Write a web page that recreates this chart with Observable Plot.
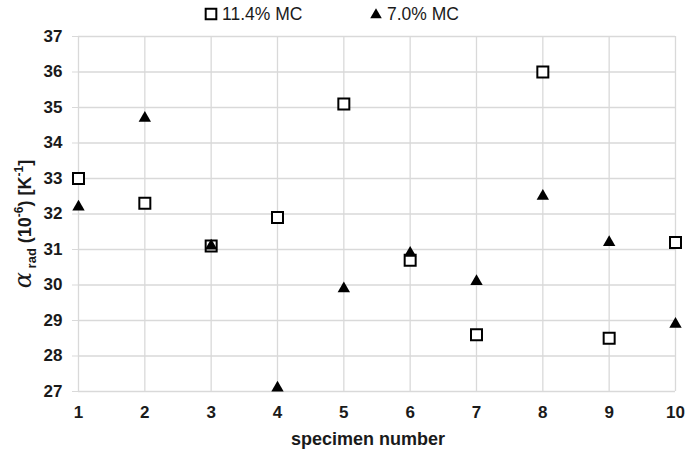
<!DOCTYPE html>
<html>
<head>
<meta charset="utf-8">
<script src="https://cdn.jsdelivr.net/npm/d3@7"></script>
<script src="https://cdn.jsdelivr.net/npm/@observablehq/plot@0.6"></script>
<style>
  body { margin: 0; background: #fff; font-family: "Liberation Sans", Arial, sans-serif; }
  #legend { display: block; }
</style>
</head>
<body>
<svg id="legend" width="685" height="26"></svg>
<div id="chart"></div>
<script>
const specimens = [1, 2, 3, 4, 5, 6, 7, 8, 9, 10];
const mc114 = [33.0, 32.3, 31.1, 31.9, 35.1, 30.7, 28.6, 36.0, 28.5, 31.2];
const mc70 = [32.2, 34.7, 31.1, 27.1, 29.9, 30.9, 30.1, 32.5, 31.2, 28.9];
const seriesNames = ["11.4% MC", "7.0% MC"];
const yTicks = [27, 28, 29, 30, 31, 32, 33, 34, 35, 36, 37];

const squares = specimens.map((s, i) => ({x: s, y: mc114[i]}));
const triangles = specimens.map((s, i) => ({x: s, y: mc70[i]}));

const chart = Plot.plot({
  width: 685,
  height: 427,
  marginTop: 10,
  marginBottom: 62,
  marginLeft: 78,
  marginRight: 10,
  style: {fontFamily: "'Liberation Sans', Arial, sans-serif", fontSize: "17px", fontWeight: "bold", color: "#1a1a1a", background: "#fff"},
  x: {domain: [1, 10], ticks: specimens, label: null},
  y: {domain: [27, 37], ticks: yTicks, label: null},
  marks: [
    Plot.gridX(specimens, {stroke: "#d9d9d9", strokeOpacity: 1, strokeWidth: 1.3}),
    Plot.gridY(yTicks, {stroke: "#d9d9d9", strokeOpacity: 1, strokeWidth: 1.3}),
    Plot.axisY(yTicks, {tickSize: 6, tickPadding: 10, stroke: "#d9d9d9", fontSize: 17, fontWeight: "bold", label: null}),
    Plot.axisX(specimens, {tickSize: 0, tickPadding: 14, fontSize: 17, fontWeight: "bold", label: null}),
    Plot.dot(squares, {x: "x", y: "y", symbol: "square", r: 6.2, stroke: "#000", strokeWidth: 2, fill: "#fff"}),
    Plot.dot(triangles, {x: "x", y: "y", symbol: "triangle", r: 4.6, fill: "#000", stroke: "none"})
  ]
});
document.getElementById("chart").appendChild(chart);

const svg = d3.select(chart);
// x-axis title
svg.append("text")
  .attr("x", 368).attr("y", 419)
  .attr("text-anchor", "middle")
  .attr("font-size", 18).attr("font-weight", "bold").attr("fill", "#1a1a1a")
  .text("specimen number");
// y-axis title with sub/superscripts
const yl = svg.append("text")
  .attr("transform", "translate(31,198) rotate(-90)")
  .attr("text-anchor", "middle")
  .attr("font-size", 18).attr("font-weight", "bold").attr("fill", "#1a1a1a");
yl.append("tspan").attr("font-family", "'DejaVu Serif', serif").attr("font-style", "italic").attr("font-weight", "normal").attr("font-size", 24).text("α");
yl.append("tspan").attr("font-size", 13).attr("dy", 5).text(" rad");
yl.append("tspan").attr("dy", -5).text(" (10");
yl.append("tspan").attr("font-size", 12).attr("dy", -8).text("-6");
yl.append("tspan").attr("dy", 8).text(") [K");
yl.append("tspan").attr("font-size", 12).attr("dy", -8).text("-1");
yl.append("tspan").attr("dy", 8).text("]");

// legend
const lg = d3.select("#legend");
const sym = d3.symbol();
lg.append("path").attr("transform", "translate(211,14)").attr("d", sym.type(d3.symbolSquare).size(Math.PI * 6 * 6)())
  .attr("fill", "#fff").attr("stroke", "#000").attr("stroke-width", 2);
lg.append("text").attr("x", 222).attr("y", 20).attr("font-size", 17.5).attr("fill", "#1a1a1a").text(seriesNames[0]);
lg.append("path").attr("transform", "translate(376,15)").attr("d", sym.type(d3.symbolTriangle).size(Math.PI * 4.3 * 4.3)())
  .attr("fill", "#000");
lg.append("text").attr("x", 387).attr("y", 20).attr("font-size", 17.5).attr("fill", "#1a1a1a").text(seriesNames[1]);
</script>
</body>
</html>
